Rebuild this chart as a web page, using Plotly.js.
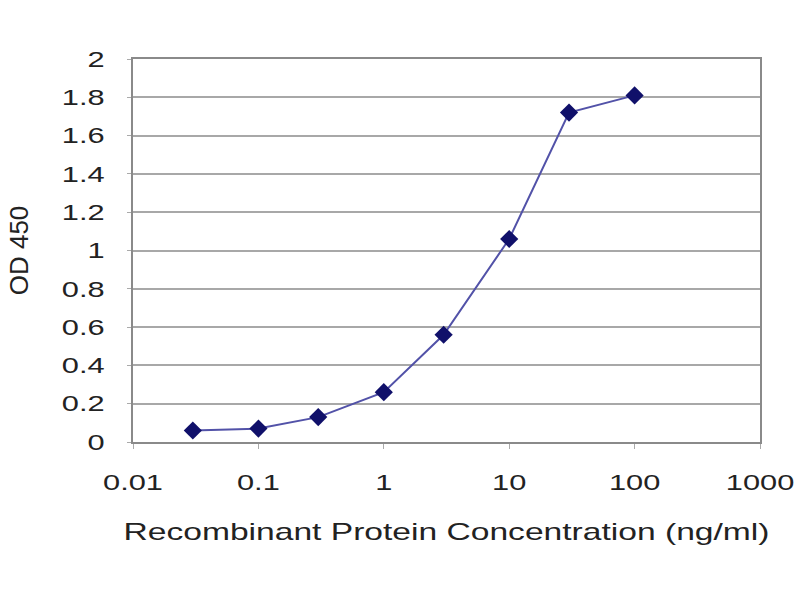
<!DOCTYPE html>
<html>
<head>
<meta charset="utf-8">
<script src="https://cdn.plot.ly/plotly-3.0.1.min.js"></script>
<style>
html,body{margin:0;padding:0;background:#fff;}
#chart{width:800px;height:600px;}
</style>
</head>
<body>
<div id="chart"></div>
<script>
const concentrations = [0.03, 0.1, 0.3, 1, 3, 10, 30, 100];
const odValues = [0.06, 0.07, 0.13, 0.26, 0.56, 1.06, 1.72, 1.81];
const xTickVals = [0.01, 0.1, 1, 10, 100, 1000];
const xTickText = ['0.01', '0.1', '1', '10', '100', '1000'];
const yTickVals = [0, 0.2, 0.4, 0.6, 0.8, 1, 1.2, 1.4, 1.6, 1.8, 2];
const yTickText = ['0', '0.2', '0.4', '0.6', '0.8', '1', '1.2', '1.4', '1.6', '1.8', '2'];

const trace = {
  x: concentrations,
  y: odValues,
  type: 'scatter',
  mode: 'lines+markers',
  line: {color: '#5252a8', width: 2},
  marker: {symbol: 'diamond', size: 14, color: '#10106a'},
  hoverinfo: 'skip'
};

const layout = {
  width: 800, height: 600,
  margin: {l: 133, r: 40, t: 59, b: 158},
  paper_bgcolor: '#ffffff',
  plot_bgcolor: '#ffffff',
  showlegend: false,
  font: {family: 'Liberation Sans, Arial, sans-serif', color: '#222222'},
  xaxis: {
    type: 'log',
    range: [-2, 3],
    tickvals: xTickVals,
    ticktext: xTickText,
    showgrid: false,
    zeroline: false,
    showline: true, mirror: true,
    linecolor: '#8a8a8a', linewidth: 2,
    ticks: 'outside', ticklen: 5, tickcolor: '#aaaaaa', tickwidth: 1,
    ticklabelstandoff: 15,
    tickfont: {size: 22, color: '#222222'},
    title: {text: 'Recombinant Protein Concentration (ng/ml)', font: {size: 24, color: '#222222'}, standoff: 29}
  },
  yaxis: {
    range: [0, 2],
    tickvals: yTickVals,
    ticktext: yTickText,
    showgrid: true,
    gridcolor: '#a8a8a8', gridwidth: 2,
    zeroline: false,
    showline: true, mirror: true,
    linecolor: '#8a8a8a', linewidth: 2,
    ticks: 'outside', ticklen: 4, tickcolor: '#aaaaaa', tickwidth: 1,
    ticklabelstandoff: 18,
    tickfont: {size: 22, color: '#222222'},
    title: {text: 'OD 450', font: {size: 26, color: '#222222'}, standoff: 38}
  }
};

function stretchText(selector, s) {
  document.querySelectorAll(selector).forEach(function (t) {
    const x = parseFloat(t.getAttribute('x')) || 0;
    const y = parseFloat(t.getAttribute('y')) || 0;
    const tr = t.getAttribute('transform') || '';
    t.setAttribute('transform', tr + ' translate(' + x + ',' + y + ') scale(' + s + ',1) translate(' + (-x) + ',' + (-y) + ')');
  });
}

Plotly.newPlot('chart', [trace], layout, {staticPlot: true, displayModeBar: false}).then(function () {
  stretchText('#chart .xtick text', 1.4);
  stretchText('#chart .ytick text', 1.4);
  stretchText('#chart .g-xtitle text', 1.4);
});
</script>
</body>
</html>
